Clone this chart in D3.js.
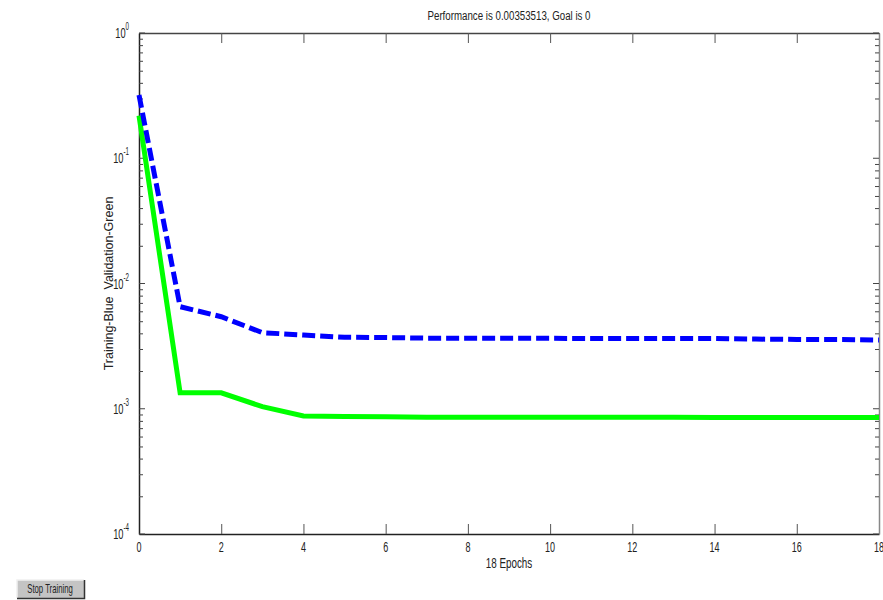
<!DOCTYPE html>
<html>
<head>
<meta charset="utf-8">
<script src="https://cdn.jsdelivr.net/npm/d3@7"></script>
<style>
  body { margin: 0; background: #fff; }
  text { font-family: "Liberation Sans", Arial, sans-serif; fill: #222; }
</style>
</head>
<body>
<svg id="chart"></svg>
<script>
const epochs = d3.range(0, 19) // 0..18
const training = [0.32, 0.00653, 0.00543, 0.00405, 0.00388, 0.00372, 0.00370, 0.00366, 0.00366, 0.00365,
    0.00365, 0.00364, 0.00364, 0.00364, 0.00364, 0.00360, 0.00358, 0.00357, 0.00354]
const validation = [0.219, 0.00134, 0.00134, 0.00104, 0.000875, 0.000868, 0.000865, 0.000855, 0.000855, 0.000854,
    0.000854, 0.000854, 0.000854, 0.000854, 0.000853, 0.000853, 0.000853, 0.000853, 0.000853]
const xTicks = [0, 2, 4, 6, 8, 10, 12, 14, 16, 18]
const yDecades = [0, -1, -2, -3, -4]

const width = 883
const height = 600
const plotLeft = 139, plotRight = 879, plotTop = 33, plotBottom = 534

const svg = d3.select("#chart")
    .attr("width", width)
    .attr("height", height)

const x = d3.scaleLinear().domain([0, 18]).range([plotLeft, plotRight])
const y = d3.scaleLog().domain([1e-4, 1]).range([plotBottom, plotTop])

// condensed text: no narrow font installed, so squeeze horizontally
function narrowText(parent, px, py, size, sx, anchor, str) {
    return parent.append("text")
        .attr("transform", `translate(${px},${py}) scale(${sx},1)`)
        .attr("text-anchor", anchor)
        .attr("font-size", size)
        .text(str)
}

// minor ticks for log axis
const minorTicks = []
yDecades.slice(0, 4).forEach(e => {
    for (let k = 2; k <= 9; k++) minorTicks.push(k * Math.pow(10, e - 1))
})
const majorTicks = yDecades.map(e => Math.pow(10, e))

// bottom axis
const xAxis = svg.append("g")
    .attr("transform", `translate(0,${plotBottom})`)
    .call(d3.axisBottom(x).tickValues(xTicks).tickSizeInner(-10).tickSizeOuter(0).tickFormat(""))
xAxis.select(".domain").attr("stroke", "#222").attr("stroke-width", 1.5)
xAxis.selectAll(".tick line").attr("stroke", "#555")

// x tick labels
xTicks.forEach(t => narrowText(svg, x(t), plotBottom + 18, 15, 0.6, "middle", d3.format("d")(t)))

// top axis, ticks only
const xTop = svg.append("g")
    .attr("transform", `translate(0,${plotTop})`)
    .call(d3.axisTop(x).tickValues(xTicks).tickSizeInner(-10).tickSizeOuter(0).tickFormat(""))
xTop.select(".domain").attr("stroke", "#444").attr("stroke-width", 1.5)
xTop.selectAll(".tick line").attr("stroke", "#555")

// left / right axes
function yAxisGroup(side) {
    const g = svg.append("g")
    const axis = side === "left" ? d3.axisLeft(y) : d3.axisRight(y)
    g.attr("transform", `translate(${side === "left" ? plotLeft : plotRight},0)`)
        .call(axis.tickValues(minorTicks).tickSizeInner(-4).tickSizeOuter(0).tickFormat(""))
    g.select(".domain").attr("stroke", side === "left" ? "#222" : "#888").attr("stroke-width", 1.5)
    g.selectAll(".tick line").attr("stroke", "#444")
    g.selectAll(".major")
        .data(majorTicks)
        .enter()
        .append("line")
        .attr("x1", 0)
        .attr("x2", side === "left" ? 6 : -6)
        .attr("y1", d => y(d))
        .attr("y2", d => y(d))
        .attr("stroke", "#444")
    return g
}
yAxisGroup("left")
yAxisGroup("right")

// decade labels 10^n
yDecades.forEach(d => {
    const t = narrowText(svg, plotLeft - 10, y(Math.pow(10, d)) + 5, 15, 0.62, "end", "")
    t.append("tspan").text("10")
    t.append("tspan").attr("dy", -8).attr("font-size", 10).text(d)
})

// lines
const lineGen = d3.line().x((d, i) => x(epochs[i])).y(d => y(d))

svg.append("path")
    .datum(validation)
    .attr("d", lineGen)
    .attr("fill", "none")
    .attr("stroke", "#00ff00")
    .attr("stroke-width", 5)

svg.append("path")
    .datum(training)
    .attr("d", lineGen)
    .attr("fill", "none")
    .attr("stroke", "#0000ff")
    .attr("stroke-width", 5)
    .attr("stroke-dasharray", "13,5")

// title and labels
narrowText(svg, (plotLeft + plotRight) / 2, 20, 13.5, 0.72, "middle", "Performance is 0.00353513, Goal is 0")
narrowText(svg, (plotLeft + plotRight) / 2, 568, 14.5, 0.68, "middle", "18 Epochs")

svg.append("text")
    .attr("transform", `translate(113,${(plotTop + plotBottom) / 2}) rotate(-90)`)
    .attr("text-anchor", "middle")
    .attr("font-size", 12.5)
    .attr("xml:space", "preserve")
    .text("Training-Blue  Validation-Green")

// stop training button
const btn = svg.append("g").attr("transform", "translate(17,580)")
btn.append("rect").attr("width", 67).attr("height", 18).attr("fill", "#c4c4c4")
btn.append("path").attr("d", "M0,18 L0,0 L67,0").attr("fill", "none").attr("stroke", "#f0f0f0").attr("stroke-width", 1.5)
btn.append("path").attr("d", "M0,18.5 L67.5,18.5 L67.5,0").attr("fill", "none").attr("stroke", "#333").attr("stroke-width", 1.5)
narrowText(btn, 33, 13, 12.5, 0.62, "middle", "Stop Training")
</script>
</body>
</html>
